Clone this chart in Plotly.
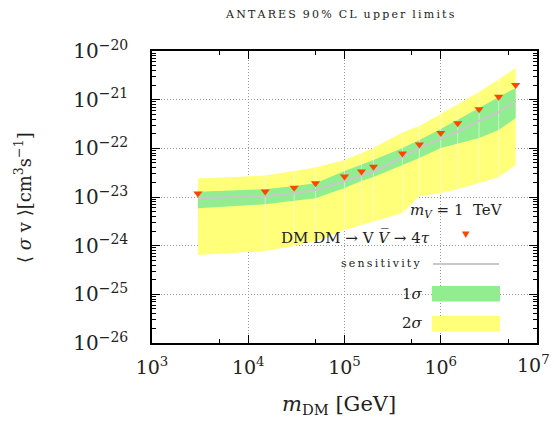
import plotly.graph_objects as go

# DM mass points [GeV]
m_dm = [3e3, 1.5e4, 3e4, 5e4, 1e5, 1.5e5, 2e5, 4e5, 6e5, 1e6, 1.5e6, 2.5e6, 4e6, 6e6]
# 90% CL upper limits <sigma v> [cm^3 s^-1]
limits = [1.18e-23, 1.29e-23, 1.55e-23, 1.91e-23, 2.64e-23, 3.34e-23, 4.16e-23,
          7.83e-23, 1.20e-22, 2.07e-22, 3.27e-22, 6.34e-22, 1.15e-21, 2.0e-21]
# sensitivity (median)
sensitivity = [9.4e-24, 1.05e-23, 1.19e-23, 1.39e-23, 2.13e-23, 2.77e-23, 3.31e-23,
               6.64e-23, 1.02e-22, 1.56e-22, 2.22e-22, 3.65e-22, 5.58e-22, 9.4e-22]
# 1 sigma band
one_sig_hi = [1.285e-23, 1.44e-23, 1.68e-23, 1.91e-23, 3.42e-23, 4.55e-23, 5.76e-23,
              1.02e-22, 1.48e-22, 2.49e-22, 3.82e-22, 6.75e-22, 1.135e-21, 1.74e-21]
one_sig_lo = [5.86e-24, 7.08e-24, 8.28e-24, 9.4e-24, 1.53e-23, 2.13e-23, 2.58e-23,
              4.55e-23, 6.33e-23, 1.02e-22, 1.23e-22, 1.63e-22, 2.38e-22, 4.2e-22]
# 2 sigma band
two_sig_hi = [2.40e-23, 2.77e-23, 3.42e-23, 4.04e-23, 5.76e-23, 8.0e-23, 1.02e-22,
              2.11e-22, 2.88e-22, 5.08e-22, 7.96e-22, 1.44e-21, 2.6e-21, 4.48e-21]
two_sig_lo = [6.43e-25, 7.77e-25, 9.8e-25, 1.25e-24, 2.1e-24, 2.66e-24, 3.21e-24,
              4.69e-24, 1.05e-23, 1.21e-23, 1.46e-23, 1.94e-23, 2.58e-23, 4.55e-23]

x_ticks = [1e3, 1e4, 1e5, 1e6, 1e7]
x_ticktext = ["10<sup>3</sup>", "10<sup>4</sup>", "10<sup>5</sup>", "10<sup>6</sup>", "10<sup>7</sup>"]
y_ticks = [1e-26, 1e-25, 1e-24, 1e-23, 1e-22, 1e-21, 1e-20]
y_ticktext = ["10<sup>−26</sup>", "10<sup>−25</sup>", "10<sup>−24</sup>", "10<sup>−23</sup>",
              "10<sup>−22</sup>", "10<sup>−21</sup>", "10<sup>−20</sup>"]

YELLOW = "#ffff7a"
GREEN = "#90ee90"
SENS = "#c8c8c8"
RED = "#ff4500"
FONT = "DejaVu Serif"

fig = go.Figure()
fig.add_trace(go.Scatter(x=m_dm + m_dm[::-1], y=two_sig_hi + two_sig_lo[::-1],
                         fill="toself", fillcolor=YELLOW, line=dict(width=0),
                         mode="lines", hoverinfo="skip", showlegend=False))
fig.add_trace(go.Scatter(x=m_dm + m_dm[::-1], y=one_sig_hi + one_sig_lo[::-1],
                         fill="toself", fillcolor=GREEN, line=dict(width=0),
                         mode="lines", hoverinfo="skip", showlegend=False))
# faint seams between the filled band segments (inner points only)
seam_x, seam_y = [], []
for m, lo, hi in zip(m_dm[1:-1], two_sig_lo[1:-1], two_sig_hi[1:-1]):
    seam_x += [m, m, None]
    seam_y += [lo, hi, None]
fig.add_trace(go.Scatter(x=seam_x, y=seam_y, mode="lines",
                         line=dict(color="rgba(255,255,255,0.5)", width=1),
                         hoverinfo="skip", showlegend=False))
fig.add_trace(go.Scatter(x=m_dm, y=sensitivity, mode="lines",
                         line=dict(color=SENS, width=2), showlegend=False))
fig.add_trace(go.Scatter(x=m_dm, y=limits, mode="markers",
                         marker=dict(symbol="triangle-down", size=8, color=RED,
                                     line=dict(width=0)), showlegend=False))

W, H = 554, 421
L, R, T, B = 152, 17, 51, 78
PW, PH = W - L - R, H - T - B


def px(x):
    return (x - L) / PW


def py(y):
    return (H - B - y) / PH


# key box (opaque, drawn over the grid but below data)
fig.add_shape(type="rect", xref="paper", yref="paper", x0=px(388), x1=px(522),
              y0=py(337), y1=py(193), fillcolor="white", line=dict(width=0), layer="between")
# key symbols
fig.add_shape(type="path", xref="paper", yref="paper",
              path=f"M {px(462)} {py(231.5)} L {px(469.5)} {py(231.5)} L {px(465.75)} {py(238)} Z",
              fillcolor=RED, line=dict(width=0), layer="above")
fig.add_shape(type="line", xref="paper", yref="paper", x0=px(433), x1=px(499),
              y0=py(264), y1=py(264), line=dict(color=SENS, width=2), layer="above")
fig.add_shape(type="rect", xref="paper", yref="paper", x0=px(432), x1=px(500),
              y0=py(301.5), y1=py(286), fillcolor=GREEN, line=dict(width=0), layer="above")
fig.add_shape(type="rect", xref="paper", yref="paper", x0=px(432), x1=px(500),
              y0=py(331.5), y1=py(316), fillcolor=YELLOW, line=dict(width=0), layer="above")

TS = "\u2009"
annots = [
    dict(text="<i>m</i><sub><i>V</i></sub> = 1  TeV", x=px(505), y=py(210), size=15),
    dict(text="DM DM → V <i>V̅</i> → 4<i>τ</i>", x=px(432), y=py(237), size=15),
    dict(text=TS.join("sensitivity"), x=px(422), y=py(263), size=11),
    dict(text="1<i>σ</i>", x=px(425), y=py(294), size=15),
    dict(text="2<i>σ</i>", x=px(425), y=py(323), size=15),
]
for a in annots:
    fig.add_annotation(text=a["text"], x=a["x"], y=a["y"], xref="paper", yref="paper",
                       xanchor="right", yanchor="middle", showarrow=False,
                       font=dict(family=FONT, size=a["size"], color="#222"))

# title
fig.add_annotation(text="  ".join(TS.join(w) for w in ["ANTARES", "90%", "CL", "upper", "limits"]),
                   x=px(340), y=py(14), xref="paper", yref="paper", showarrow=False,
                   xanchor="center", yanchor="middle",
                   font=dict(family=FONT, size=11, color="#222"))
# axis titles
fig.add_annotation(text="<i>m</i><sub>DM</sub> [GeV]", x=px(339), y=py(405),
                   xref="paper", yref="paper", showarrow=False, xanchor="center", yanchor="middle",
                   font=dict(family=FONT, size=21, color="#222"))
fig.add_annotation(text="⟨ <i>σ</i> v ⟩[cm<sup>3</sup>s<sup>−1</sup>]", x=px(23), y=py(198),
                   xref="paper", yref="paper", showarrow=False, textangle=-90,
                   xanchor="center", yanchor="middle",
                   font=dict(family=FONT, size=18, color="#222"))

axis_common = dict(showline=True, linecolor="black", linewidth=1.5, mirror="ticks",
                   ticks="inside", ticklen=8, tickwidth=1, tickcolor="black",
                   showgrid=True, gridcolor="#9a9a9a", gridwidth=1, griddash="1px,2px",
                   zeroline=False)

y_minor = [k * 10.0 ** e for e in range(-26, -20) for k in range(2, 10)]
x_minor = [5 * 10.0 ** e for e in range(3, 7)]

# the last x label sits at the page edge: draw it as an annotation so it stays inside the page
fig.update_xaxes(type="log", range=[3, 7], tickmode="array", tickvals=x_ticks,
                 ticktext=x_ticktext[:-1] + [""], ticklabelstandoff=6,
                 tickfont=dict(family=FONT, size=19, color="#222"),
                 minor=dict(tickmode="array", tickvals=x_minor, ticks="inside", ticklen=4,
                            tickcolor="black", showgrid=False),
                 **axis_common)
fig.add_annotation(text=x_ticktext[-1], x=px(552), y=py(364), xref="paper", yref="paper",
                   xanchor="right", yanchor="middle", showarrow=False,
                   font=dict(family=FONT, size=19, color="#222"))
fig.update_yaxes(type="log", range=[-26, -20], tickmode="array", tickvals=y_ticks,
                 ticktext=y_ticktext, ticklabelstandoff=18,
                 tickfont=dict(family=FONT, size=20, color="#222"),
                 minor=dict(tickmode="array", tickvals=y_minor, ticks="inside", ticklen=4,
                            tickcolor="black", showgrid=False),
                 **axis_common)

fig.update_layout(width=W, height=H, margin=dict(l=L, r=R, t=T, b=B),
                  paper_bgcolor="white", plot_bgcolor="white", showlegend=False)

post = ("document.documentElement.style.overflow='hidden';"
        "document.body.style.margin='0';document.body.style.overflow='hidden';")
fig.write_html("out.html", config={"displayModeBar": False}, post_script=post)
